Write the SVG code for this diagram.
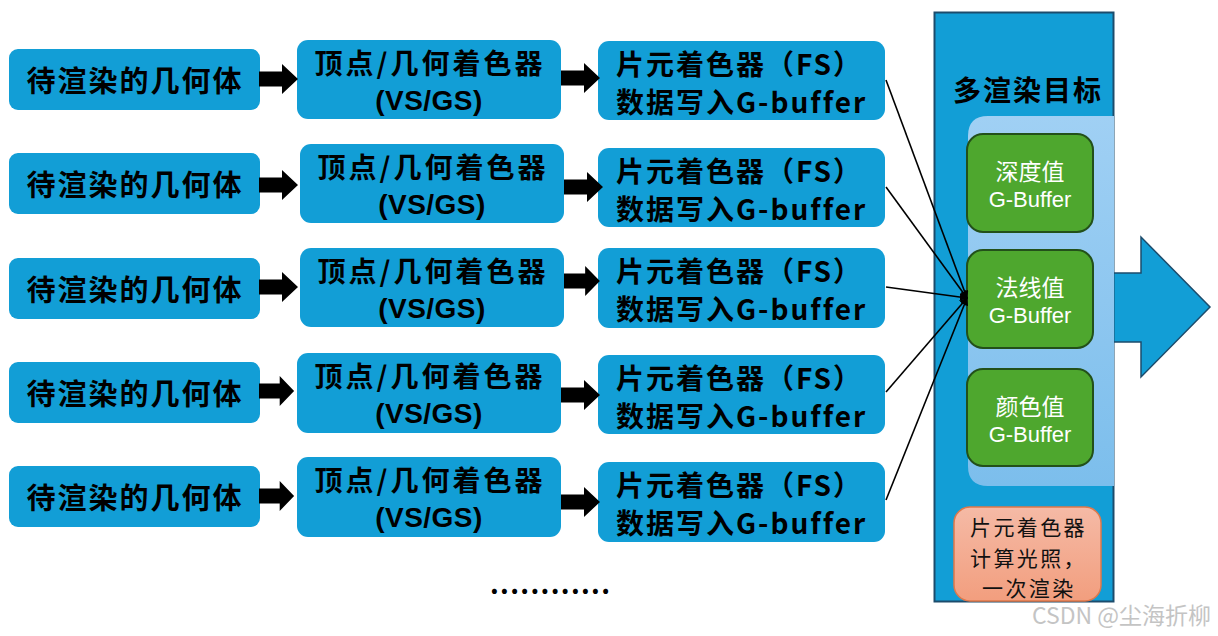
<svg xmlns="http://www.w3.org/2000/svg" width="1218" height="636" viewBox="0 0 1218 636">
<defs>
<style>
.box{fill:#129ED6;}
.t{font-family:"Noto Sans CJK SC","Noto Sans",sans-serif;font-weight:700;font-size:28px;fill:#000;letter-spacing:3px;text-anchor:middle;}
.tv{font-family:"Liberation Sans",Arial,sans-serif;font-weight:700;font-size:28px;fill:#000;letter-spacing:0.5px;text-anchor:middle;}
.ta{font-family:"Noto Sans CJK SC","Noto Sans",sans-serif;font-weight:700;font-size:29px;fill:#000;letter-spacing:2px;text-anchor:middle;}
.tc{font-family:"Noto Sans CJK SC","Noto Sans",sans-serif;font-weight:700;font-size:28px;fill:#000;letter-spacing:2px;}
.g{fill:#4EA72E;stroke:#23501A;stroke-width:2;}
.gt{font-family:"Noto Sans CJK SC","Noto Sans",sans-serif;font-size:23px;fill:#fff;text-anchor:middle;}
.gb{font-family:"Liberation Sans",Arial,sans-serif;font-size:22px;fill:#fff;text-anchor:middle;}
.pt{font-family:"Noto Sans CJK SC","Noto Sans",sans-serif;font-size:21px;fill:#111;letter-spacing:2.4px;}
.blk{fill:#000;}
.con line{stroke:#000;stroke-width:1.6;marker-end:url(#ah);}
</style>
<marker id="ah" viewBox="0 0 10 10" refX="9" refY="5" markerWidth="5" markerHeight="5" orient="auto" markerUnits="strokeWidth">
<path d="M0,0 L10,5 L0,10 z" fill="#000"/>
</marker>
<linearGradient id="lb" x1="0" y1="0" x2="0" y2="1">
<stop offset="0" stop-color="#A0D0F4"/>
<stop offset="1" stop-color="#7CBEEC"/>
</linearGradient>
<linearGradient id="pk" x1="0" y1="0" x2="0" y2="1">
<stop offset="0" stop-color="#F5BAA6"/>
<stop offset="1" stop-color="#F29E7E"/>
</linearGradient>
<path id="arrAB" d="M0,-7.5 H23 V-15 L39,0 L23,15 V7.5 H0 Z"/>
</defs>

<!-- big right arrow -->
<g id="output-arrow">
<path d="M1112,273 H1141 V237 L1210,307 L1141,377 V342 H1112 Z" fill="#129ED6" stroke="#1C4C6C" stroke-width="1.5"/>
</g>

<!-- panel -->
<g id="mrt-panel">
<rect x="934.5" y="12.5" width="179" height="589" fill="#129ED6" stroke="#1C4C6C" stroke-width="2"/>
<text x="1028" y="101" class="t" style="letter-spacing:2px">多渲染目标</text>
<path d="M988,116 H1114 V486 H988 Q968,486 968,466 V136 Q968,116 988,116 Z" fill="url(#lb)"/>
</g>

<g id="gbuf-depth">
<rect class="g" x="967" y="134" width="126" height="98" rx="16"/>
<text class="gt" x="1030" y="180">深度值</text>
<text class="gb" x="1030" y="207">G-Buffer</text>
</g>
<g id="gbuf-normal">
<rect class="g" x="967" y="250" width="126" height="98" rx="16"/>
<text class="gt" x="1030" y="296">法线值</text>
<text class="gb" x="1030" y="323">G-Buffer</text>
</g>
<g id="gbuf-color">
<rect class="g" x="967" y="369" width="126" height="97" rx="16"/>
<text class="gt" x="1030" y="415">颜色值</text>
<text class="gb" x="1030" y="442">G-Buffer</text>
</g>

<g id="lighting">
<rect x="954" y="507" width="147" height="94" rx="16" fill="url(#pk)" stroke="#E0784A" stroke-width="1.5"/>
<text class="pt"><tspan x="970" y="535">片元着色器</tspan><tspan x="970" y="565.5">计算光照，</tspan><tspan x="982" y="596">一次渲染</tspan></text>
</g>

<!-- row 1 -->
<g id="geom1"><rect class="box" x="9" y="49" width="251" height="61" rx="9"/><text class="ta" x="135" y="92">待渲染的几何体</text></g>
<g id="vsgs1"><rect class="box" x="297" y="40" width="264" height="79" rx="11"/><text class="t" x="430" y="74">顶点/几何着色器</text><text class="tv" x="429" y="110">(VS/GS)</text></g>
<g id="fs1"><rect class="box" x="598" y="41" width="287" height="79" rx="11"/><text class="tc" x="616" y="75">片元着色器（FS）</text><text class="tc" x="616" y="113">数据写入G-buffer</text></g>

<!-- row 2 -->
<g id="geom2"><rect class="box" x="9" y="153" width="251" height="61" rx="9"/><text class="ta" x="135" y="196">待渲染的几何体</text></g>
<g id="vsgs2"><rect class="box" x="300" y="144" width="264" height="79" rx="11"/><text class="t" x="433" y="178">顶点/几何着色器</text><text class="tv" x="432" y="214">(VS/GS)</text></g>
<g id="fs2"><rect class="box" x="598" y="148" width="287" height="79" rx="11"/><text class="tc" x="616" y="182">片元着色器（FS）</text><text class="tc" x="616" y="220">数据写入G-buffer</text></g>

<!-- row 3 -->
<g id="geom3"><rect class="box" x="9" y="258" width="251" height="61" rx="9"/><text class="ta" x="135" y="301">待渲染的几何体</text></g>
<g id="vsgs3"><rect class="box" x="300" y="248" width="264" height="79" rx="11"/><text class="t" x="433" y="282">顶点/几何着色器</text><text class="tv" x="432" y="318">(VS/GS)</text></g>
<g id="fs3"><rect class="box" x="598" y="248" width="287" height="80" rx="11"/><text class="tc" x="616" y="282">片元着色器（FS）</text><text class="tc" x="616" y="320">数据写入G-buffer</text></g>

<!-- row 4 -->
<g id="geom4"><rect class="box" x="9" y="362" width="251" height="61" rx="9"/><text class="ta" x="135" y="405">待渲染的几何体</text></g>
<g id="vsgs4"><rect class="box" x="297" y="353" width="264" height="80" rx="11"/><text class="t" x="430" y="387">顶点/几何着色器</text><text class="tv" x="429" y="423">(VS/GS)</text></g>
<g id="fs4"><rect class="box" x="598" y="355" width="287" height="79" rx="11"/><text class="tc" x="616" y="389">片元着色器（FS）</text><text class="tc" x="616" y="427">数据写入G-buffer</text></g>

<!-- row 5 -->
<g id="geom5"><rect class="box" x="9" y="466" width="251" height="61" rx="9"/><text class="ta" x="135" y="509">待渲染的几何体</text></g>
<g id="vsgs5"><rect class="box" x="297" y="457" width="264" height="80" rx="11"/><text class="t" x="430" y="491">顶点/几何着色器</text><text class="tv" x="429" y="527">(VS/GS)</text></g>
<g id="fs5"><rect class="box" x="598" y="462" width="287" height="80" rx="11"/><text class="tc" x="616" y="496">片元着色器（FS）</text><text class="tc" x="616" y="534">数据写入G-buffer</text></g>

<!-- connectors -->
<g id="connectors">
<g class="blk">
<use href="#arrAB" transform="translate(259,79)"/>
<use href="#arrAB" transform="translate(561,78)"/>
<use href="#arrAB" transform="translate(259,185)"/>
<use href="#arrAB" transform="translate(564,187)"/>
<use href="#arrAB" transform="translate(259,287)"/>
<use href="#arrAB" transform="translate(564,281) scale(0.92,1)"/>
<use href="#arrAB" transform="translate(259,391) scale(0.9,1)"/>
<use href="#arrAB" transform="translate(561,395)"/>
<use href="#arrAB" transform="translate(259,496) scale(0.9,1)"/>
<use href="#arrAB" transform="translate(561,502)"/>
</g>
<g class="con">
<line x1="886" y1="80" x2="967" y2="298"/>
<line x1="886" y1="187" x2="967" y2="298"/>
<line x1="886" y1="287" x2="967" y2="298"/>
<line x1="886" y1="392" x2="967" y2="298"/>
<line x1="886" y1="500" x2="967" y2="298"/>
</g>
</g>

<text x="490" y="594" font-family="Noto Sans CJK SC, Noto Sans, sans-serif" font-weight="700" font-size="27" textLength="120" lengthAdjust="spacing">............</text>

<text x="1032" y="624" font-family="Noto Sans CJK SC, Noto Sans, sans-serif" font-size="23" fill="#c4c4c4">CSDN @尘海折柳</text>
</svg>
